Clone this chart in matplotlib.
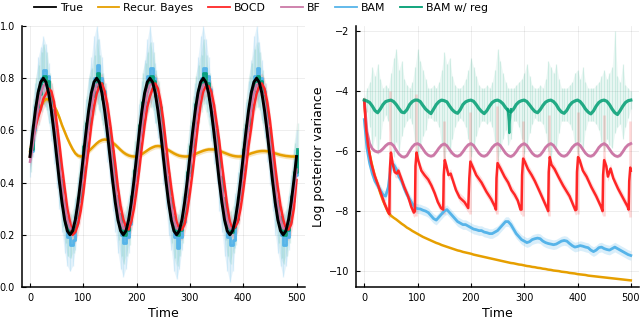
import numpy as np
import matplotlib
matplotlib.use("Agg")
import matplotlib.pyplot as plt
from matplotlib.lines import Line2D

# ---------------- data ----------------
t5 = np.arange(0, 501, 5)  # sampling grid of the time axis

true_mean = [
    0.500, 0.593, 0.676, 0.743, 0.785, 0.800, 0.785, 0.743, 0.676, 0.593,
    0.500, 0.407, 0.324, 0.257, 0.215, 0.200, 0.215, 0.257, 0.324, 0.407,
    0.500, 0.593, 0.676, 0.743, 0.785, 0.800, 0.785, 0.743, 0.676, 0.593,
    0.500, 0.407, 0.324, 0.257, 0.215, 0.200, 0.215, 0.257, 0.324, 0.407,
    0.500, 0.593, 0.676, 0.743, 0.785, 0.800, 0.785, 0.743, 0.676, 0.593,
    0.500, 0.407, 0.324, 0.257, 0.215, 0.200, 0.215, 0.257, 0.324, 0.407,
    0.500, 0.593, 0.676, 0.743, 0.785, 0.800, 0.785, 0.743, 0.676, 0.593,
    0.500, 0.407, 0.324, 0.257, 0.215, 0.200, 0.215, 0.257, 0.324, 0.407,
    0.500, 0.593, 0.676, 0.743, 0.785, 0.800, 0.785, 0.743, 0.676, 0.593,
    0.500, 0.407, 0.324, 0.257, 0.215, 0.200, 0.215, 0.257, 0.324, 0.407,
    0.500]

rb_mean = [
    0.52, 0.57, 0.62, 0.66, 0.69, 0.71, 0.72, 0.718, 0.71, 0.695,
    0.675, 0.65, 0.62, 0.595, 0.57, 0.548, 0.528, 0.512, 0.503, 0.50,
    0.503, 0.51, 0.52, 0.53, 0.54, 0.55, 0.558, 0.563, 0.565, 0.564,
    0.56, 0.553, 0.545, 0.535, 0.525, 0.516, 0.509, 0.504, 0.501, 0.50,
    0.50, 0.503, 0.509, 0.516, 0.523, 0.53, 0.535, 0.539, 0.54, 0.539,
    0.535, 0.53, 0.524, 0.518, 0.512, 0.507, 0.503, 0.501, 0.50, 0.50,
    0.502, 0.505, 0.509, 0.514, 0.518, 0.522, 0.525, 0.527, 0.527, 0.527,
    0.525, 0.522, 0.518, 0.514, 0.51, 0.506, 0.503, 0.501, 0.50, 0.50,
    0.501, 0.504, 0.508, 0.512, 0.515, 0.518, 0.52, 0.521, 0.521, 0.52,
    0.518, 0.515, 0.512, 0.509, 0.506, 0.504, 0.502, 0.501, 0.50, 0.50,
    0.50]

bocd_mean = [
    0.50, 0.56, 0.61, 0.65, 0.68, 0.72, 0.74, 0.76, 0.75, 0.71,
    0.63, 0.55, 0.46, 0.38, 0.30, 0.25, 0.20, 0.21, 0.24, 0.29,
    0.36, 0.45, 0.53, 0.62, 0.69, 0.74, 0.77, 0.78, 0.75, 0.70,
    0.63, 0.55, 0.47, 0.38, 0.31, 0.26, 0.23, 0.22, 0.25, 0.30,
    0.37, 0.45, 0.54, 0.62, 0.69, 0.73, 0.76, 0.78, 0.76, 0.71,
    0.64, 0.55, 0.46, 0.38, 0.31, 0.25, 0.22, 0.22, 0.24, 0.29,
    0.36, 0.44, 0.53, 0.62, 0.70, 0.75, 0.77, 0.77, 0.75, 0.70,
    0.63, 0.56, 0.47, 0.39, 0.31, 0.25, 0.22, 0.23, 0.25, 0.30,
    0.37, 0.45, 0.54, 0.61, 0.69, 0.74, 0.77, 0.78, 0.76, 0.71,
    0.64, 0.55, 0.46, 0.38, 0.31, 0.26, 0.22, 0.22, 0.24, 0.30,
    0.41]

bf_mean = [
    0.48, 0.54, 0.62, 0.69, 0.74, 0.77, 0.78, 0.75, 0.70, 0.635,
    0.55, 0.465, 0.38, 0.31, 0.255, 0.225, 0.22, 0.245, 0.295, 0.365,
    0.45, 0.535, 0.62, 0.69, 0.745, 0.775, 0.778, 0.753, 0.704, 0.635,
    0.552, 0.465, 0.381, 0.308, 0.255, 0.225, 0.222, 0.247, 0.296, 0.365,
    0.45, 0.535, 0.62, 0.69, 0.745, 0.775, 0.778, 0.753, 0.704, 0.635,
    0.552, 0.465, 0.381, 0.308, 0.255, 0.225, 0.222, 0.247, 0.296, 0.365,
    0.45, 0.535, 0.62, 0.69, 0.745, 0.775, 0.778, 0.753, 0.704, 0.635,
    0.552, 0.465, 0.381, 0.308, 0.255, 0.225, 0.222, 0.247, 0.296, 0.365,
    0.45, 0.535, 0.62, 0.69, 0.745, 0.775, 0.778, 0.753, 0.704, 0.635,
    0.552, 0.465, 0.381, 0.308, 0.255, 0.225, 0.222, 0.247, 0.296, 0.365,
    0.45]

bam_mean = [
    0.52, 0.60, 0.66, 0.76, 0.80, 0.83, 0.81, 0.74, 0.66, 0.57,
    0.48, 0.40, 0.31, 0.24, 0.19, 0.16, 0.18, 0.25, 0.33, 0.42,
    0.50, 0.61, 0.68, 0.74, 0.80, 0.85, 0.80, 0.75, 0.67, 0.58,
    0.50, 0.39, 0.32, 0.25, 0.20, 0.17, 0.19, 0.24, 0.32, 0.41,
    0.51, 0.59, 0.68, 0.75, 0.81, 0.84, 0.80, 0.74, 0.68, 0.59,
    0.49, 0.41, 0.31, 0.26, 0.19, 0.15, 0.19, 0.25, 0.33, 0.43,
    0.52, 0.60, 0.67, 0.76, 0.80, 0.84, 0.81, 0.76, 0.66, 0.58,
    0.50, 0.40, 0.32, 0.24, 0.19, 0.16, 0.18, 0.26, 0.34, 0.42,
    0.51, 0.60, 0.68, 0.75, 0.81, 0.84, 0.80, 0.75, 0.67, 0.58,
    0.49, 0.40, 0.31, 0.25, 0.20, 0.16, 0.19, 0.25, 0.33, 0.43,
    0.52]

reg_mean = [
    0.53, 0.62, 0.69, 0.74, 0.79, 0.81, 0.79, 0.73, 0.68, 0.60,
    0.51, 0.41, 0.33, 0.27, 0.22, 0.21, 0.23, 0.27, 0.34, 0.44,
    0.54, 0.63, 0.70, 0.73, 0.77, 0.82, 0.78, 0.72, 0.68, 0.61,
    0.52, 0.43, 0.35, 0.28, 0.23, 0.20, 0.22, 0.26, 0.35, 0.45,
    0.53, 0.62, 0.71, 0.75, 0.78, 0.81, 0.79, 0.73, 0.69, 0.60,
    0.51, 0.42, 0.34, 0.27, 0.22, 0.20, 0.22, 0.27, 0.35, 0.44,
    0.54, 0.63, 0.70, 0.74, 0.78, 0.82, 0.78, 0.72, 0.67, 0.60,
    0.52, 0.42, 0.34, 0.28, 0.23, 0.21, 0.23, 0.26, 0.34, 0.45,
    0.53, 0.62, 0.70, 0.75, 0.79, 0.81, 0.79, 0.73, 0.68, 0.61,
    0.51, 0.42, 0.33, 0.27, 0.22, 0.20, 0.22, 0.27, 0.35, 0.44,
    0.53]

bam_hi = [
    0.60, 0.70, 0.78, 0.88, 0.92, 0.96, 0.93, 0.86, 0.76, 0.68,
    0.58, 0.50, 0.40, 0.33, 0.28, 0.25, 0.28, 0.34, 0.42, 0.52,
    0.62, 0.72, 0.80, 0.88, 0.96, 1.00, 0.95, 0.88, 0.78, 0.70,
    0.60, 0.50, 0.42, 0.34, 0.29, 0.26, 0.29, 0.34, 0.42, 0.52,
    0.61, 0.70, 0.79, 0.87, 0.95, 1.00, 0.94, 0.86, 0.78, 0.69,
    0.59, 0.51, 0.41, 0.35, 0.28, 0.25, 0.28, 0.35, 0.43, 0.53,
    0.62, 0.71, 0.78, 0.88, 0.96, 1.00, 0.95, 0.88, 0.77, 0.68,
    0.60, 0.50, 0.42, 0.33, 0.28, 0.26, 0.28, 0.36, 0.44, 0.52,
    0.61, 0.71, 0.79, 0.87, 0.96, 1.00, 0.94, 0.87, 0.78, 0.69,
    0.59, 0.50, 0.41, 0.34, 0.30, 0.26, 0.29, 0.35, 0.43, 0.53,
    0.60]

bam_lo = [
    0.42, 0.50, 0.56, 0.64, 0.68, 0.70, 0.69, 0.63, 0.56, 0.47,
    0.38, 0.30, 0.21, 0.13, 0.08, 0.06, 0.08, 0.14, 0.23, 0.32,
    0.40, 0.50, 0.58, 0.63, 0.68, 0.72, 0.68, 0.64, 0.57, 0.48,
    0.40, 0.29, 0.21, 0.13, 0.07, 0.04, 0.07, 0.13, 0.22, 0.31,
    0.41, 0.48, 0.57, 0.64, 0.69, 0.71, 0.69, 0.63, 0.57, 0.49,
    0.39, 0.30, 0.20, 0.14, 0.06, 0.03, 0.07, 0.14, 0.23, 0.33,
    0.42, 0.50, 0.57, 0.65, 0.69, 0.72, 0.70, 0.65, 0.56, 0.47,
    0.40, 0.29, 0.21, 0.12, 0.06, 0.02, 0.06, 0.15, 0.24, 0.32,
    0.41, 0.50, 0.57, 0.64, 0.70, 0.72, 0.69, 0.64, 0.57, 0.48,
    0.39, 0.29, 0.20, 0.13, 0.08, 0.04, 0.08, 0.14, 0.23, 0.33,
    0.42]

reg_hi = [
    0.62, 0.72, 0.80, 0.85, 0.90, 0.93, 0.90, 0.82, 0.78, 0.70,
    0.62, 0.52, 0.44, 0.36, 0.31, 0.28, 0.30, 0.35, 0.44, 0.55,
    0.64, 0.73, 0.81, 0.84, 0.89, 0.95, 0.89, 0.82, 0.78, 0.71,
    0.62, 0.53, 0.45, 0.37, 0.31, 0.28, 0.31, 0.35, 0.45, 0.56,
    0.63, 0.72, 0.82, 0.86, 0.90, 0.94, 0.90, 0.83, 0.79, 0.70,
    0.61, 0.52, 0.44, 0.36, 0.31, 0.28, 0.30, 0.36, 0.45, 0.55,
    0.64, 0.73, 0.81, 0.85, 0.89, 0.95, 0.89, 0.82, 0.77, 0.70,
    0.62, 0.52, 0.44, 0.37, 0.32, 0.29, 0.31, 0.35, 0.44, 0.56,
    0.63, 0.72, 0.81, 0.86, 0.91, 0.94, 0.90, 0.83, 0.78, 0.71,
    0.61, 0.52, 0.43, 0.36, 0.31, 0.28, 0.30, 0.36, 0.45, 0.55,
    0.63]

reg_lo = [
    0.44, 0.52, 0.59, 0.62, 0.67, 0.70, 0.68, 0.63, 0.58, 0.50,
    0.41, 0.31, 0.23, 0.17, 0.12, 0.11, 0.13, 0.18, 0.24, 0.34,
    0.44, 0.53, 0.60, 0.62, 0.66, 0.70, 0.67, 0.62, 0.58, 0.51,
    0.42, 0.33, 0.25, 0.18, 0.12, 0.09, 0.12, 0.16, 0.25, 0.35,
    0.43, 0.52, 0.61, 0.64, 0.67, 0.69, 0.68, 0.63, 0.59, 0.50,
    0.41, 0.32, 0.24, 0.17, 0.11, 0.08, 0.12, 0.17, 0.25, 0.34,
    0.44, 0.53, 0.60, 0.63, 0.67, 0.70, 0.67, 0.62, 0.57, 0.50,
    0.42, 0.32, 0.24, 0.18, 0.12, 0.09, 0.13, 0.16, 0.24, 0.35,
    0.43, 0.52, 0.60, 0.64, 0.68, 0.69, 0.68, 0.63, 0.58, 0.51,
    0.41, 0.32, 0.23, 0.17, 0.11, 0.09, 0.12, 0.17, 0.25, 0.34,
    0.43]

# ---- right panel: log posterior variance ----
rb_logvar = [
    -4.3, -5.6, -6.1, -6.5, -6.85, -7.1, -7.4, -7.65, -7.85, -8.05,
    -8.15, -8.22, -8.28, -8.35, -8.42, -8.48, -8.55, -8.6, -8.66, -8.71,
    -8.76, -8.81, -8.86, -8.9, -8.94, -8.98, -9.02, -9.06, -9.09, -9.13,
    -9.16, -9.19, -9.22, -9.25, -9.28, -9.31, -9.33, -9.36, -9.38, -9.4,
    -9.42, -9.45, -9.47, -9.49, -9.51, -9.53, -9.55, -9.57, -9.59, -9.61,
    -9.63, -9.65, -9.67, -9.69, -9.71, -9.73, -9.74, -9.76, -9.78, -9.79,
    -9.81, -9.83, -9.84, -9.86, -9.87, -9.89, -9.9, -9.92, -9.93, -9.95,
    -9.96, -9.98, -9.99, -10.0, -10.02, -10.03, -10.04, -10.06, -10.07, -10.08,
    -10.1, -10.11, -10.12, -10.13, -10.15, -10.16, -10.17, -10.18, -10.19, -10.2,
    -10.21, -10.22, -10.23, -10.24, -10.25, -10.26, -10.27, -10.28, -10.29, -10.3,
    -10.31]

bf_logvar = [
    -4.3, -5.35, -5.75, -5.92, -6.0, -6.03, -6.0, -5.92, -5.82, -5.75,
    -5.74, -5.82, -5.97, -6.1, -6.18, -6.2, -6.15, -6.0, -5.86, -5.77,
    -5.75, -5.8, -5.93, -6.06, -6.14, -6.17, -6.14, -6.03, -5.9, -5.8,
    -5.76, -5.82, -5.95, -6.07, -6.15, -6.17, -6.13, -6.02, -5.89, -5.79,
    -5.75, -5.81, -5.94, -6.07, -6.15, -6.17, -6.13, -6.02, -5.88, -5.79,
    -5.75, -5.81, -5.94, -6.07, -6.15, -6.18, -6.13, -6.02, -5.88, -5.79,
    -5.75, -5.81, -5.94, -6.07, -6.15, -6.17, -6.13, -6.02, -5.88, -5.79,
    -5.75, -5.81, -5.94, -6.07, -6.15, -6.17, -6.13, -6.02, -5.88, -5.79,
    -5.75, -5.81, -5.94, -6.07, -6.15, -6.17, -6.13, -6.02, -5.88, -5.79,
    -5.75, -5.81, -5.94, -6.07, -6.15, -6.18, -6.14, -6.02, -5.88, -5.79,
    -5.75]

bam_logvar = [
    -4.95, -5.9, -6.4, -6.75, -7.0, -7.15, -7.3, -7.45, -7.5, -7.2,
    -6.5, -6.45, -6.6, -6.85, -7.0, -7.25, -7.45, -7.6, -7.75, -7.88,
    -7.92, -7.93, -7.97, -8.0, -8.05, -8.15, -8.25, -8.3, -8.2, -8.1,
    -8.0, -7.95, -8.05, -8.15, -8.25, -8.35, -8.4, -8.45, -8.45, -8.5,
    -8.55, -8.6, -8.62, -8.65, -8.65, -8.7, -8.72, -8.75, -8.75, -8.7,
    -8.65, -8.55, -8.45, -8.35, -8.35, -8.45, -8.6, -8.75, -8.85, -8.95,
    -9.0, -9.05, -9.02, -8.95, -8.92, -8.9, -8.92, -9.0, -9.05, -9.08,
    -9.1, -9.12, -9.1, -9.05, -9.0, -8.98, -9.0, -9.08, -9.15, -9.2,
    -9.18, -9.15, -9.17, -9.2, -9.22, -9.3, -9.35, -9.3, -9.22, -9.2,
    -9.25, -9.28, -9.3, -9.25, -9.2, -9.25, -9.3, -9.35, -9.4, -9.45,
    -9.48]

reg_logvar = [
    -4.3, -4.33, -4.38, -4.5, -4.65, -4.72, -4.6, -4.45, -4.35, -4.32,
    -4.3, -4.35, -4.45, -4.58, -4.7, -4.72, -4.62, -4.45, -4.35, -4.3,
    -4.3, -4.35, -4.48, -4.6, -4.68, -4.75, -4.6, -4.45, -4.35, -4.3,
    -4.32, -4.36, -4.5, -4.62, -4.7, -4.74, -4.62, -4.45, -4.36, -4.32,
    -4.3, -4.34, -4.45, -4.58, -4.68, -4.75, -4.65, -4.5, -4.38, -4.32,
    -4.3, -4.34, -4.42, -4.55, -4.65, -4.7, -4.6, -4.45, -4.36, -4.32,
    -4.3, -4.35, -4.46, -4.58, -4.68, -4.72, -4.62, -4.48, -4.37, -4.32,
    -4.3, -4.35, -4.45, -4.6, -4.7, -4.74, -4.64, -4.48, -4.38, -4.33,
    -4.3, -4.35, -4.46, -4.6, -4.7, -4.76, -4.66, -4.5, -4.38, -4.32,
    -4.3, -4.34, -4.45, -4.6, -4.72, -4.78, -4.65, -4.5, -4.38, -4.32,
    -4.3]

reg_logvar_hi = [
    -4.2, -3.9, -3.7, -3.2, -3.5, -3.1, -3.6, -3.9, -3.8, -3.9,
    -3.4, -2.9, -2.6, -3.3, -3.0, -3.6, -3.8, -3.9, -3.7, -3.2,
    -2.6, -3.0, -3.3, -3.6, -3.9, -3.9, -3.8, -3.9, -3.7, -3.3,
    -2.7, -3.1, -2.9, -3.5, -3.8, -3.9, -3.9, -3.8, -3.6, -3.3,
    -2.9, -3.2, -3.5, -3.8, -3.9, -3.9, -3.8, -3.9, -3.7, -3.3,
    -2.6, -3.0, -3.4, -3.7, -3.9, -3.9, -3.9, -3.8, -3.7, -3.6,
    -3.4, -3.1, -3.5, -3.8, -3.9, -3.9, -3.8, -3.9, -3.6, -3.0,
    -3.2, -3.4, -3.1, -3.6, -3.9, -3.9, -3.9, -3.8, -3.7, -3.4,
    -3.3, -3.6, -3.2, -3.7, -3.9, -3.9, -3.9, -3.8, -3.7, -3.5,
    -3.3, -3.6, -3.4, -3.2, -2.0, -3.5, -3.7, -3.1, -3.8, -3.9,
    -4.0]

reg_logvar_lo = [
    -4.4, -4.7, -5.2, -5.9, -5.5, -6.1, -5.6, -5.0, -4.8, -5.0,
    -5.8, -6.2, -5.7, -6.0, -5.5, -5.2, -5.0, -4.9, -5.1, -5.7,
    -6.3, -5.9, -5.5, -5.3, -4.9, -4.9, -5.0, -5.0, -5.2, -5.8,
    -6.3, -5.9, -6.1, -5.6, -5.2, -5.0, -4.9, -5.0, -5.2, -5.6,
    -6.2, -5.9, -5.5, -5.2, -5.0, -5.0, -5.1, -5.0, -5.2, -5.7,
    -6.3, -6.0, -5.6, -5.3, -5.8, -5.6, -5.0, -5.0, -5.2, -5.6,
    -6.1, -5.8, -5.4, -5.1, -4.9, -5.0, -5.0, -5.1, -5.4, -6.0,
    -6.2, -5.8, -5.9, -5.4, -5.0, -5.0, -5.0, -5.1, -5.3, -5.8,
    -6.1, -5.7, -5.9, -5.3, -5.0, -5.0, -5.0, -5.1, -5.3, -5.7,
    -6.0, -5.6, -5.8, -5.9, -5.4, -5.2, -5.1, -5.6, -5.2, -4.9,
    -4.6]

reg_dip_t = [269, 271, 272, 273, 275]
reg_dip_v = [-4.6, -5.0, -5.4, -5.0, -4.6]

bocd_r_t = [0, 3, 7, 13, 19, 26, 32, 38, 44, 47,
            48, 50, 53, 57, 61, 64, 69, 75, 82, 88, 93, 95,
            96, 98, 101, 107, 113, 120, 126, 132, 138, 144, 148,
            149, 151, 154, 158, 162, 166, 172, 179, 188, 195,
            197, 199, 204, 210, 220, 229, 238, 245, 247,
            248, 250, 256, 263, 270, 276, 282, 288, 293, 295,
            296, 298, 301, 307, 314, 320, 329, 339, 344, 345,
            346, 348, 351, 357, 364, 373, 385, 392, 396, 398,
            399, 401, 404, 410, 417, 426, 435, 444, 447,
            448, 450, 454, 457, 462, 467, 476, 485, 494, 496,
            497, 499, 500]
bocd_r_v = [-4.3, -5.2, -5.8, -6.4, -6.8, -7.15, -7.45, -7.75, -8.0, -8.1,
            -6.6, -6.05, -6.4, -6.7, -6.75, -6.65, -6.9, -7.2, -7.5, -7.85, -8.05, -8.0,
            -6.5, -6.05, -6.3, -6.65, -6.8, -6.95, -7.15, -7.4, -7.7, -7.9, -7.95,
            -6.8, -6.3, -6.5, -6.8, -6.75, -6.97, -7.3, -7.55, -7.7, -7.9,
            -6.9, -6.35, -6.55, -6.8, -7.05, -7.35, -7.6, -7.85, -7.95,
            -6.9, -6.4, -6.6, -6.85, -7.05, -7.3, -7.45, -7.65, -7.95, -7.95,
            -6.8, -6.25, -6.35, -6.6, -6.8, -7.0, -7.35, -7.75, -7.95, -8.0,
            -6.7, -6.2, -6.45, -6.6, -6.85, -7.15, -7.5, -7.8, -7.97, -7.95,
            -6.7, -6.2, -6.3, -6.65, -6.85, -7.2, -7.5, -7.85, -8.0,
            -6.8, -6.3, -6.5, -6.85, -6.58, -6.9, -7.25, -7.55, -7.85, -7.95,
            -7.0, -6.55, -6.65]

bocd_spike_t = [48, 97, 150, 198, 249, 297, 347, 400, 449, 498]
bocd_spike_hi = [-4.0, -4.1, -5.0, -4.7, -4.5, -5.0, -4.8, -4.7, -4.8, -5.0]
bocd_spike_lo = [-8.2, -8.15, -8.1, -8.1, -8.1, -8.15, -8.15, -8.1, -8.15, -8.2]

legend_labels = ["True", "Recur. Bayes", "BOCD", "BF", "BAM", "BAM w/ reg"]
left_yticks = [0.0, 0.2, 0.4, 0.6, 0.8, 1.0]
right_yticks = [-10, -8, -6, -4, -2]
x_ticks = [0, 100, 200, 300, 400, 500]

# ---------------- style ----------------
C_TRUE = "black"
C_RB = "#E69F00"
C_BOCD = "#FF2626"
C_BF = "#CC79A7"
C_BAM = "#56B4E9"
C_REG = "#009E73"

plt.rcParams["font.family"] = "DejaVu Sans"
fig = plt.figure(figsize=(6.4, 3.19), dpi=100)
W, H = 640.0, 319.0
ax1 = fig.add_axes([22 / W, 1 - 287 / H, 282.5 / W, 261 / H])
ax2 = fig.add_axes([356.3 / W, 1 - 287 / H, 282.5 / W, 261 / H])

# ---- left panel ----
ax1.fill_between(t5, bam_lo, bam_hi, color=C_BAM, alpha=0.14, lw=0)
ax1.vlines(t5, bam_lo, bam_hi, color=C_BAM, alpha=0.18, lw=1.0)
ax1.fill_between(t5, reg_lo, reg_hi, color=C_REG, alpha=0.08, lw=0)
ax1.vlines(t5 + 2, reg_lo, reg_hi, color=C_REG, alpha=0.12, lw=1.0)
ax1.fill_between(t5, np.array(bocd_mean) - 0.04, np.array(bocd_mean) + 0.04,
                 color=C_BOCD, alpha=0.15, lw=0)
ax1.fill_between(t5, np.array(bf_mean) - 0.03, np.array(bf_mean) + 0.03,
                 color=C_BF, alpha=0.22, lw=0)
ax1.fill_between(t5, np.array(rb_mean) - 0.01, np.array(rb_mean) + 0.01,
                 color=C_RB, alpha=0.25, lw=0)
ax1.plot(t5, rb_mean, color=C_RB, lw=1.8)
ax1.plot(t5, bam_mean, color=C_BAM, lw=2.0, drawstyle="steps-post")
ax1.plot(t5, reg_mean, color=C_REG, lw=2.0, drawstyle="steps-post", alpha=0.9)
ax1.plot(t5, bocd_mean, color=C_BOCD, lw=1.8)
ax1.plot(t5, bf_mean, color=C_BF, lw=1.8)
ax1.plot(t5, true_mean, color=C_TRUE, lw=2.1)
ax1.set_ylim(0, 1)
ax1.set_yticks(left_yticks)
ax1.set_yticklabels([f"{v:.1f}" for v in left_yticks])

# ---- right panel ----
ax2.fill_between(t5, reg_logvar_lo, reg_logvar_hi, color=C_REG, alpha=0.07, lw=0)
ax2.vlines(t5, reg_logvar_lo, reg_logvar_hi, color=C_REG, alpha=0.14, lw=0.9)
ax2.fill_between(t5, np.array(bam_logvar) - 0.16, np.array(bam_logvar) + 0.16,
                 color=C_BAM, alpha=0.22, lw=0)
ax2.fill_between(bocd_r_t, np.array(bocd_r_v) - 0.16, np.array(bocd_r_v) + 0.16,
                 color=C_BOCD, alpha=0.16, lw=0)
ax2.vlines(bocd_spike_t, bocd_spike_lo, bocd_spike_hi, color=C_BOCD, alpha=0.18, lw=1.8)
ax2.fill_between(t5, np.array(bf_logvar) - 0.05, np.array(bf_logvar) + 0.05,
                 color=C_BF, alpha=0.25, lw=0)
ax2.plot(t5, rb_logvar, color=C_RB, lw=1.8)
ax2.plot(t5, bam_logvar, color=C_BAM, lw=2.0)
ax2.plot(t5, bf_logvar, color=C_BF, lw=2.0)
ax2.plot(bocd_r_t, bocd_r_v, color=C_BOCD, lw=1.8)
ax2.plot(t5, reg_logvar, color=C_REG, lw=2.3, alpha=0.85)
ax2.plot(reg_dip_t, reg_dip_v, color=C_REG, lw=1.6, alpha=0.85)
ax2.set_ylim(-10.53, -1.83)
ax2.set_yticks(right_yticks)
ax2.set_yticklabels([f"\u2212{abs(v)}" for v in right_yticks])
ax2.set_ylabel("Log posterior variance", fontsize=9, labelpad=3)

for ax in (ax1, ax2):
    ax.set_xlim(-15, 515)
    ax.set_xticks(x_ticks)
    ax.set_xlabel("Time", fontsize=9, labelpad=3)
    ax.grid(True, color="#000000", alpha=0.08, lw=0.6)
    ax.set_axisbelow(True)
    for s in ("top", "right"):
        ax.spines[s].set_visible(False)
    for s in ("left", "bottom"):
        ax.spines[s].set_linewidth(1.1)
    ax.tick_params(direction="in", length=3, width=0.8, labelsize=7)
    ax.tick_params(axis="y", pad=5)
    ax.tick_params(axis="x", pad=4)

handles = [Line2D([], [], color=c, lw=1.3) for c in (C_TRUE, C_RB, C_BOCD, C_BF, C_BAM, C_REG)]
fig.legend(handles, legend_labels, loc="center left", bbox_to_anchor=(0.05, 0.975),
           ncol=6, frameon=False, fontsize=7.8, handlelength=2.0, handletextpad=0.35,
           columnspacing=1.4, borderaxespad=0, borderpad=0.2)

fig.savefig("out.png", dpi=100)
